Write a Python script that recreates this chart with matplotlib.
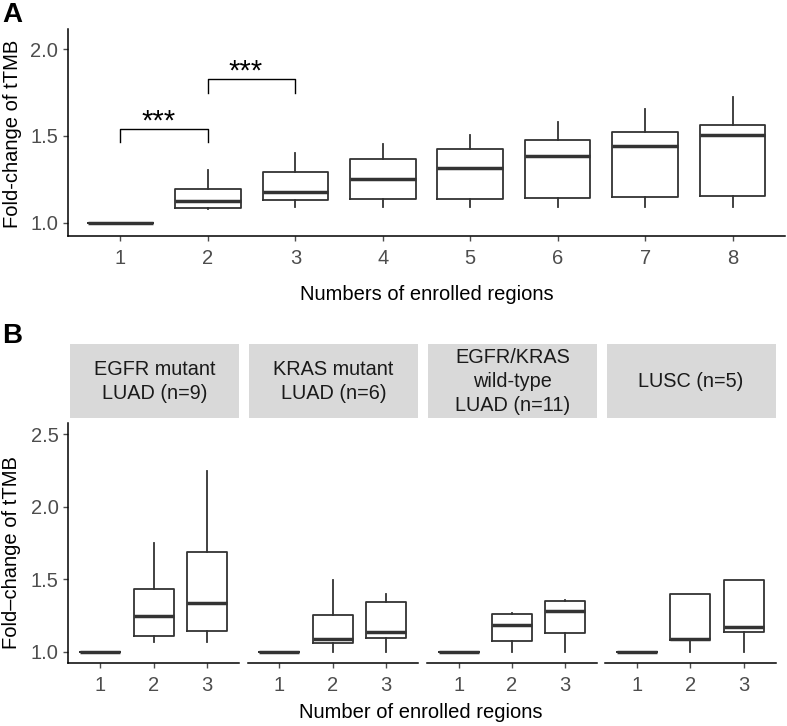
import matplotlib
matplotlib.use("Agg")
import matplotlib.pyplot as plt

plt.rcParams['font.family'] = ['Liberation Sans', 'DejaVu Sans']

# ---------------- Panel A data ----------------
a_positions = [1, 2, 3, 4, 5, 6, 7, 8]
a_whislo = [1.00, 1.079, 1.09, 1.09, 1.09, 1.09, 1.09, 1.09]
a_q1     = [1.00, 1.086, 1.132, 1.136, 1.138, 1.144, 1.149, 1.157]
a_med    = [1.00, 1.126, 1.178, 1.251, 1.318, 1.383, 1.444, 1.504]
a_q3     = [1.00, 1.194, 1.293, 1.366, 1.425, 1.475, 1.521, 1.565]
a_whishi = [1.00, 1.305, 1.40, 1.452, 1.506, 1.582, 1.655, 1.722]
a_xlabel = "Numbers of enrolled regions"
a_ylabel = "Fold-change of tTMB"
a_yticks = [1.0, 1.5, 2.0]

# significance brackets
sig_x1 = [1, 2]
sig_x2 = [2, 3]
sig_bar = [1.538, 1.826]
sig_leg = [1.464, 1.749]
sig_text = ["***", "***"]

# ---------------- Panel B data ----------------
b_facets = ["EGFR mutant\nLUAD (n=9)", "KRAS mutant\nLUAD (n=6)",
            "EGFR/KRAS\nwild-type\nLUAD (n=11)", "LUSC (n=5)"]
b_positions = [1, 2, 3]
b_whislo = [[1.0, 1.069, 1.069], [1.0, 1.0, 1.0], [1.0, 1.0, 1.0], [1.0, 1.0, 1.0]]
b_q1     = [[1.0, 1.108, 1.143], [1.0, 1.058, 1.092], [1.0, 1.076, 1.129], [1.0, 1.078, 1.138]]
b_med    = [[1.0, 1.248, 1.334], [1.0, 1.085, 1.134], [1.0, 1.182, 1.281], [1.0, 1.09, 1.17]]
b_q3     = [[1.0, 1.432, 1.690], [1.0, 1.251, 1.343], [1.0, 1.258, 1.347], [1.0, 1.398, 1.497]]
b_whishi = [[1.0, 1.748, 2.248], [1.0, 1.494, 1.400], [1.0, 1.269, 1.357], [1.0, 1.398, 1.497]]
b_xlabel = "Number of enrolled regions"
b_ylabel = "Fold\u2013change of tTMB"
b_yticks = [1.0, 1.5, 2.0, 2.5]

W, H = 787, 726
fig = plt.figure(figsize=(W / 100, H / 100), dpi=100)

BOXC = "#333333"
TICKC = "#4D4D4D"
TICKFS = 14.5
LABFS = 14.5

def fr(x0, y0, x1, y1):
    return [x0 / W, (H - y1) / H, (x1 - x0) / W, (y1 - y0) / H]

def style_axes(ax, show_y=True):
    for s in ['top', 'right']:
        ax.spines[s].set_visible(False)
    for s in ['bottom', 'left']:
        ax.spines[s].set_linewidth(1.1)
        ax.spines[s].set_color('black')
    if not show_y:
        ax.spines['left'].set_visible(False)
        ax.tick_params(axis='y', left=False, labelleft=False)
    ax.tick_params(axis='both', colors=TICKC, labelcolor=TICKC,
                   labelsize=TICKFS, length=3.5, width=1.0)
    ax.tick_params(axis='x', pad=6)
    ax.tick_params(axis='y', pad=3.5)
    ax.set_facecolor('white')

def draw_boxes(ax, pos, lo, q1, med, q3, hi):
    stats = []
    for i in range(len(pos)):
        stats.append(dict(whislo=lo[i], q1=q1[i], med=med[i], q3=q3[i],
                          whishi=hi[i], fliers=[]))
    ax.bxp(stats, positions=pos, widths=0.75, showfliers=False, showcaps=False,
           patch_artist=False,
           boxprops=dict(color=BOXC, linewidth=1.3),
           whiskerprops=dict(color=BOXC, linewidth=1.3),
           medianprops=dict(color=BOXC, linewidth=2.5, solid_capstyle='butt'),
           manage_ticks=False)

# ---------------- Panel A ----------------
axA = fig.add_axes(fr(68, 29, 785, 236))
draw_boxes(axA, a_positions, a_whislo, a_q1, a_med, a_q3, a_whishi)
axA.set_xlim(0.4, 8.6)
axA.set_ylim(0.925, 2.115)
axA.set_xticks(a_positions)
axA.set_xticklabels([str(p) for p in a_positions])
axA.set_yticks(a_yticks)
axA.set_yticklabels([f"{v:.1f}" for v in a_yticks])
style_axes(axA)
axA.set_xlabel(a_xlabel, fontsize=LABFS, labelpad=12)
for x1, x2, yb, yl, t in zip(sig_x1, sig_x2, sig_bar, sig_leg, sig_text):
    axA.plot([x1, x1, x2, x2], [yl, yb, yb, yl], color='black', lw=1.0)
    axA.text((x1 + x2) / 2 - 0.065, yb + 0.0, t, ha='center', va='baseline',
             fontsize=21, color='black')

fig.text(12.5 / W, 1 - 134 / H, a_ylabel, rotation=90, ha='center', va='center',
         fontsize=LABFS)

fig.text(12 / W, 1 - 15 / H, "A", fontsize=20, fontweight='bold', ha='center', va='center')
fig.text(12 / W, 1 - 336 / H, "B", fontsize=20, fontweight='bold', ha='center', va='center')

# ---------------- Panel B ----------------
facet_x0 = [68.3, 247.5, 426.7, 605.0]
facet_w = 170.5
for k, name in enumerate(b_facets):
    x0 = facet_x0[k]
    ax = fig.add_axes(fr(x0, 423.3, x0 + facet_w, 663.3))
    draw_boxes(ax, b_positions, b_whislo[k], b_q1[k], b_med[k], b_q3[k], b_whishi[k])
    ax.set_xlim(0.4, 3.6)
    ax.set_ylim(0.92, 2.575)
    ax.set_xticks(b_positions)
    ax.set_xticklabels([str(p) for p in b_positions])
    ax.set_yticks(b_yticks)
    ax.set_yticklabels([f"{v:.1f}" for v in b_yticks])
    style_axes(ax, show_y=(k == 0))
    sax = fig.add_axes(fr(x0 + 1.5, 344.3, x0 + facet_w, 418.3))
    sax.set_facecolor('#D9D9D9')
    for s in sax.spines.values():
        s.set_visible(False)
    sax.set_xticks([])
    sax.set_yticks([])
    sax.text(0.5, 0.5, name, ha='center', va='center', fontsize=14.3,
             transform=sax.transAxes, linespacing=1.35, color='#1A1A1A')

fig.text(12 / W, 1 - 553 / H, b_ylabel, rotation=90, ha='center', va='center',
         fontsize=LABFS)
fig.text(421 / W, 1 - 713 / H, b_xlabel, ha='center', va='center', fontsize=LABFS)

fig.savefig("out.png", dpi=100, facecolor='white')
